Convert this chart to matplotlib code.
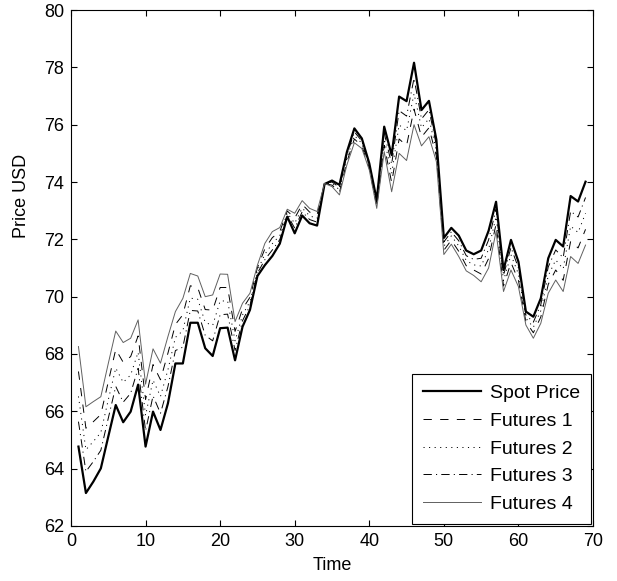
import matplotlib
matplotlib.use("Agg")
import matplotlib.pyplot as plt

plt.rcParams['font.family'] = ['Liberation Sans', 'DejaVu Sans']
plt.rcParams['lines.scale_dashes'] = False

time = list(range(1, 70))

spot = [64.77, 63.15, 63.55, 64.01, 65.12, 66.22, 65.62, 65.99, 66.93, 64.77,
        65.99, 65.35, 66.28, 67.67, 67.67, 69.09, 69.09, 68.20, 67.93, 68.90,
        68.92, 67.78, 68.95, 69.54, 70.72, 71.10, 71.42, 71.85, 72.79, 72.21,
        72.83, 72.56, 72.48, 73.93, 74.05, 73.90, 75.05, 75.87, 75.52, 74.65,
        73.37, 75.93, 74.94, 76.98, 76.82, 78.16, 76.51, 76.83, 75.47, 72.05,
        72.40, 72.13, 71.61, 71.48, 71.61, 72.30, 73.31, 70.93, 71.98, 71.22,
        69.48, 69.30, 69.94, 71.34, 71.98, 71.75, 73.51, 73.32, 74.01]

futures1 = [67.39, 65.41, 65.64, 65.89, 67.03, 68.16, 67.71, 67.91, 68.63, 66.41,
            67.63, 67.10, 68.03, 69.03, 69.37, 70.38, 70.31, 69.55, 69.53, 70.32,
            70.32, 68.79, 69.57, 69.98, 71.01, 71.67, 72.06, 72.27, 72.99, 72.74,
            73.22, 72.95, 72.85, 73.95, 73.89, 73.64, 74.71, 75.50, 75.26, 74.48,
            73.15, 75.28, 73.98, 75.50, 75.27, 76.54, 75.57, 75.89, 74.90, 71.62,
            71.97, 71.58, 71.08, 70.93, 70.79, 71.33, 72.53, 70.37, 71.19, 70.57,
            69.13, 68.74, 69.29, 70.43, 70.93, 70.57, 71.93, 71.70, 72.35]

futures2 = [66.52, 64.66, 64.95, 65.26, 66.40, 67.51, 67.01, 67.27, 68.06, 65.86,
            67.09, 66.52, 67.45, 68.58, 68.81, 69.95, 69.91, 69.10, 69.00, 69.85,
            69.85, 68.46, 69.36, 69.83, 70.91, 71.48, 71.85, 72.13, 72.92, 72.56,
            73.09, 72.82, 72.73, 73.94, 73.95, 73.73, 74.83, 75.62, 75.35, 74.54,
            73.23, 75.50, 74.30, 75.99, 75.79, 77.08, 75.89, 76.21, 75.09, 71.76,
            72.12, 71.77, 71.26, 71.11, 71.07, 71.65, 72.79, 70.56, 71.46, 70.79,
            69.25, 68.93, 69.51, 70.73, 71.28, 70.97, 72.46, 72.24, 72.91]

futures3 = [65.64, 63.90, 64.25, 64.64, 65.76, 66.87, 66.32, 66.63, 67.50, 65.32,
            66.54, 65.93, 66.86, 68.12, 68.24, 69.52, 69.50, 68.65, 68.46, 69.37,
            69.39, 68.12, 69.16, 69.69, 70.82, 71.29, 71.63, 71.99, 72.86, 72.39,
            72.96, 72.69, 72.60, 73.94, 74.00, 73.81, 74.94, 75.75, 75.43, 74.59,
            73.30, 75.71, 74.62, 76.49, 76.30, 77.62, 76.20, 76.52, 75.28, 71.91,
            72.26, 71.95, 71.43, 71.30, 71.34, 71.98, 73.05, 70.74, 71.72, 71.00,
            69.36, 69.11, 69.72, 71.04, 71.63, 71.36, 72.98, 72.78, 73.46]

futures4 = [68.26, 66.16, 66.34, 66.51, 67.67, 68.80, 68.40, 68.55, 69.19, 66.95,
            68.18, 67.68, 68.61, 69.48, 69.94, 70.81, 70.72, 70.00, 70.06, 70.79,
            70.78, 69.13, 69.77, 70.12, 71.10, 71.86, 72.27, 72.41, 73.05, 72.91,
            73.35, 73.08, 72.97, 73.95, 73.84, 73.55, 74.60, 75.37, 75.17, 74.42,
            73.08, 75.06, 73.66, 75.00, 74.75, 76.00, 75.26, 75.58, 74.71, 71.47,
            71.83, 71.40, 70.90, 70.74, 70.52, 71.00, 72.27, 70.18, 70.93, 70.35,
            69.01, 68.55, 69.07, 70.12, 70.58, 70.18, 71.40, 71.16, 71.80]

labels = ['Spot Price', 'Futures 1', 'Futures 2', 'Futures 3', 'Futures 4']

fig = plt.figure(figsize=(6.17, 5.81), dpi=100)
ax = fig.add_axes([71/617, 1 - 526/581, (593 - 71)/617, (526 - 10)/581])

ax.plot(time, spot, color='black', lw=1.6, label=labels[0])
l1, = ax.plot(time, futures1, color='black', lw=0.7, label=labels[1])
l1.set_dashes([6, 6])
l2, = ax.plot(time, futures2, color='black', lw=0.7, label=labels[2])
l2.set_dashes([0.8, 3.2])
l3, = ax.plot(time, futures3, color='black', lw=0.7, label=labels[3])
l3.set_dashes([6, 3, 0.8, 3])
ax.plot(time, futures4, color='#606060', lw=0.7, label=labels[4])

ax.set_xlim(0, 70)
ax.set_ylim(62, 80)
ax.set_xticks(range(0, 71, 10))
ax.set_yticks(range(62, 81, 2))
ax.tick_params(direction='in', top=True, right=True, labelsize=13, length=4,
               width=0.8, pad=5)
for sp in ax.spines.values():
    sp.set_linewidth(0.8)
ax.set_xlabel('Time', fontsize=13, labelpad=5)
ax.set_ylabel('Price USD', fontsize=13)
ax.yaxis.set_label_coords(-0.078, 0.64)

leg = ax.legend(loc='lower right', fontsize=14, frameon=True, fancybox=False,
                edgecolor='black', framealpha=1, handlelength=3.0, handletextpad=0.45,
                labelspacing=0.52, borderpad=0.55, borderaxespad=0.12)
leg.get_frame().set_linewidth(0.8)

fig.savefig('out.png', dpi=100)
